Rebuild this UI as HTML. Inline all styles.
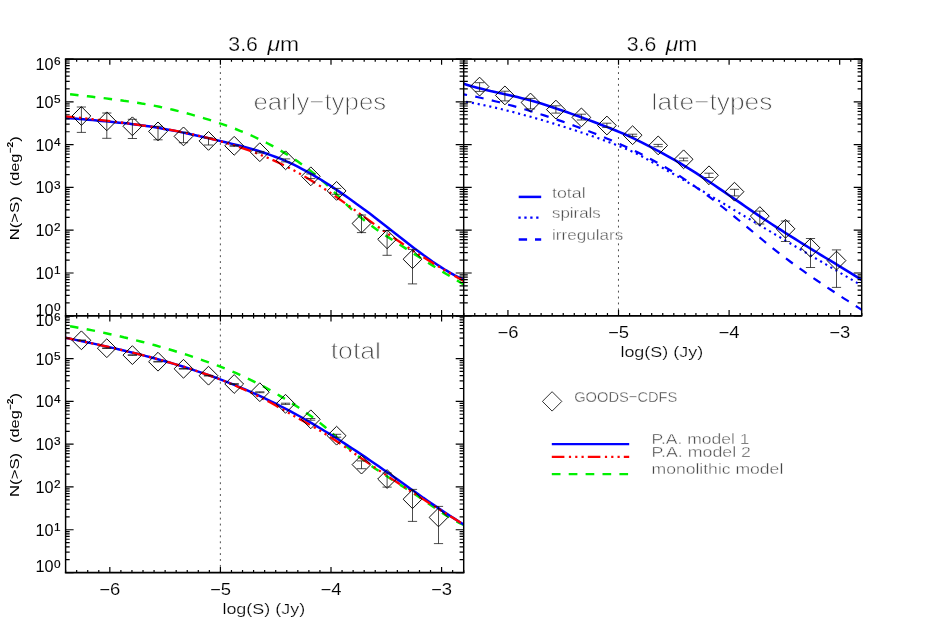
<!DOCTYPE html>
<html><head><meta charset="utf-8"><title>3.6 um counts</title>
<style>html,body{margin:0;padding:0;background:#fff;}svg{display:block;}</style></head>
<body>
<svg width="926" height="632" viewBox="0 0 926 632" font-family="'Liberation Sans', sans-serif">
<rect width="926" height="632" fill="#fff"/>
<path d="M220.37,59.06 V315.80" stroke="#303030" stroke-width="0.85" stroke-dasharray="1.9 4.007" stroke-dashoffset="4.674" fill="none"/>
<path d="M618.47,59.06 V315.80" stroke="#303030" stroke-width="0.85" stroke-dasharray="1.9 4.007" stroke-dashoffset="4.674" fill="none"/>
<path d="M220.37,315.80 V572.70" stroke="#303030" stroke-width="0.85" stroke-dasharray="1.9 4.007" stroke-dashoffset="4.850" fill="none"/>
<defs><clipPath id="c1"><rect x="65.60" y="59.06" width="398.10" height="256.74"/></clipPath>
<clipPath id="c2"><rect x="463.70" y="59.06" width="398.00" height="256.74"/></clipPath>
<clipPath id="c3"><rect x="65.60" y="315.80" width="398.10" height="256.90"/></clipPath></defs>
<g clip-path="url(#c1)" fill="none" stroke-width="2.7">
<path d="M65.6,93.7 L70.1,94.2 L74.5,94.7 L79.0,95.3 L83.5,95.8 L88.0,96.3 L92.4,96.8 L96.9,97.4 L101.4,97.9 L105.9,98.4 L110.3,99.0 L114.8,99.6 L119.3,100.1 L123.7,100.8 L128.2,101.4 L132.7,102.1 L137.2,102.7 L141.6,103.5 L146.1,104.2 L150.6,105.1 L155.1,105.9 L159.5,106.8 L164.0,107.8 L168.5,108.7 L173.0,109.8 L177.4,110.9 L181.9,112.0 L186.4,113.2 L190.8,114.4 L195.3,115.7 L199.8,117.0 L204.3,118.3 L208.7,119.7 L213.2,121.1 L217.7,122.6 L222.2,124.1 L226.6,125.7 L231.1,127.3 L235.6,129.0 L240.0,130.8 L244.5,132.6 L249.0,134.5 L253.5,136.5 L257.9,138.6 L262.4,140.8 L266.9,143.0 L271.4,145.4 L275.8,147.8 L280.3,150.4 L284.8,153.1 L289.3,155.9 L293.7,158.8 L298.2,161.8 L302.7,165.0 L307.1,168.3 L311.6,171.7 L316.1,175.3 L320.6,179.1 L325.0,183.2 L329.5,187.4 L334.0,191.8 L338.5,196.4 L342.9,201.0 L347.4,205.4 L351.9,209.7 L356.3,213.7 L360.8,217.5 L365.3,221.1 L369.8,224.5 L374.2,227.8 L378.7,231.0 L383.2,234.0 L387.7,236.9 L392.1,239.8 L396.6,242.7 L401.1,245.5 L405.6,248.4 L410.0,251.2 L414.5,254.1 L419.0,256.9 L423.4,259.7 L427.9,262.6 L432.4,265.4 L436.9,268.2 L441.3,270.9 L445.8,273.7 L450.3,276.4 L454.8,279.1 L459.2,281.7 L463.7,284.4" stroke="#00f000" stroke-width="2.45" stroke-dasharray="8.5 8.4" stroke-dashoffset="-4.5"/>
<path d="M65.6,117.9 L70.1,118.2 L74.5,118.6 L79.0,119.0 L83.5,119.3 L88.0,119.7 L92.4,120.1 L96.9,120.5 L101.4,120.9 L105.9,121.3 L110.3,121.7 L114.8,122.2 L119.3,122.7 L123.7,123.1 L128.2,123.6 L132.7,124.2 L137.2,124.7 L141.6,125.3 L146.1,126.0 L150.6,126.6 L155.1,127.3 L159.5,128.1 L164.0,128.9 L168.5,129.7 L173.0,130.5 L177.4,131.4 L181.9,132.4 L186.4,133.3 L190.8,134.3 L195.3,135.3 L199.8,136.3 L204.3,137.3 L208.7,138.3 L213.2,139.4 L217.7,140.4 L222.2,141.5 L226.6,142.5 L231.1,143.6 L235.6,144.7 L240.0,145.8 L244.5,147.0 L249.0,148.2 L253.5,149.5 L257.9,150.8 L262.4,152.3 L266.9,153.7 L271.4,155.3 L275.8,157.0 L280.3,158.7 L284.8,160.6 L289.3,162.6 L293.7,164.7 L298.2,166.9 L302.7,169.3 L307.1,171.7 L311.6,174.2 L316.1,176.8 L320.6,179.5 L325.0,182.3 L329.5,185.1 L334.0,188.1 L338.5,191.1 L342.9,194.1 L347.4,197.3 L351.9,200.4 L356.3,203.7 L360.8,206.9 L365.3,210.3 L369.8,213.6 L374.2,217.0 L378.7,220.5 L383.2,223.9 L387.7,227.4 L392.1,230.9 L396.6,234.4 L401.1,237.9 L405.6,241.4 L410.0,244.9 L414.5,248.4 L419.0,251.8 L423.4,255.1 L427.9,258.3 L432.4,261.5 L436.9,264.5 L441.3,267.4 L445.8,270.2 L450.3,272.8 L454.8,275.3 L459.2,277.5 L463.7,279.6" stroke="#0000ff" stroke-width="2.5"/>
<path d="M65.6,116.3 L70.1,116.8 L74.5,117.2 L79.0,117.7 L83.5,118.2 L88.0,118.7 L92.4,119.2 L96.9,119.7 L101.4,120.2 L105.9,120.7 L110.3,121.2 L114.8,121.7 L119.3,122.3 L123.7,122.8 L128.2,123.4 L132.7,124.0 L137.2,124.6 L141.6,125.3 L146.1,125.9 L150.6,126.6 L155.1,127.3 L159.5,128.0 L164.0,128.8 L168.5,129.6 L173.0,130.4 L177.4,131.2 L181.9,132.1 L186.4,133.0 L190.8,134.0 L195.3,135.0 L199.8,136.0 L204.3,137.1 L208.7,138.2 L213.2,139.3 L217.7,140.5 L222.2,141.8 L226.6,143.1 L231.1,144.4 L235.6,145.8 L240.0,147.3 L244.5,148.8 L249.0,150.4 L253.5,152.1 L257.9,153.8 L262.4,155.6 L266.9,157.5 L271.4,159.4 L275.8,161.4 L280.3,163.5 L284.8,165.7 L289.3,168.0 L293.7,170.3 L298.2,172.8 L302.7,175.3 L307.1,178.0 L311.6,180.7 L316.1,183.5 L320.6,186.4 L325.0,189.3 L329.5,192.3 L334.0,195.4 L338.5,198.5 L342.9,201.6 L347.4,204.8 L351.9,208.0 L356.3,211.2 L360.8,214.4 L365.3,217.6 L369.8,220.9 L374.2,224.1 L378.7,227.3 L383.2,230.5 L387.7,233.6 L392.1,236.7 L396.6,239.8 L401.1,242.8 L405.6,245.8 L410.0,248.8 L414.5,251.7 L419.0,254.5 L423.4,257.3 L427.9,260.1 L432.4,262.8 L436.9,265.5 L441.3,268.2 L445.8,270.8 L450.3,273.4 L454.8,275.9 L459.2,278.5 L463.7,281.0" stroke="#ff0000" stroke-width="2.3" stroke-dasharray="12.6 4.5 2.2 4.1 2.2 4.1 2.2 4.1" stroke-dashoffset="3.65"/>
</g>
<g clip-path="url(#c2)" fill="none" stroke-width="2.7" stroke="#0000ff">
<path d="M463.7,83.8 L468.2,85.2 L472.6,86.5 L477.1,87.7 L481.6,88.8 L486.1,89.9 L490.5,91.0 L495.0,92.0 L499.5,93.0 L503.9,94.0 L508.4,95.0 L512.9,96.0 L517.4,97.1 L521.8,98.2 L526.3,99.3 L530.8,100.5 L535.3,101.7 L539.7,103.1 L544.2,104.4 L548.7,105.9 L553.1,107.4 L557.6,108.9 L562.1,110.4 L566.6,112.0 L571.0,113.6 L575.5,115.2 L580.0,116.8 L584.4,118.5 L588.9,120.1 L593.4,121.8 L597.9,123.5 L602.3,125.2 L606.8,126.9 L611.3,128.7 L615.7,130.5 L620.2,132.4 L624.7,134.3 L629.2,136.3 L633.6,138.4 L638.1,140.6 L642.6,142.8 L647.0,145.1 L651.5,147.4 L656.0,149.8 L660.5,152.2 L664.9,154.6 L669.4,157.1 L673.9,159.6 L678.4,162.2 L682.8,164.9 L687.3,167.6 L691.8,170.4 L696.2,173.2 L700.7,176.1 L705.2,179.1 L709.7,182.0 L714.1,185.0 L718.6,188.1 L723.1,191.1 L727.5,194.2 L732.0,197.3 L736.5,200.4 L741.0,203.4 L745.4,206.5 L749.9,209.6 L754.4,212.6 L758.8,215.6 L763.3,218.6 L767.8,221.5 L772.3,224.5 L776.7,227.4 L781.2,230.2 L785.7,233.1 L790.1,235.9 L794.6,238.7 L799.1,241.5 L803.6,244.3 L808.0,247.0 L812.5,249.8 L817.0,252.5 L821.5,255.3 L825.9,258.0 L830.4,260.7 L834.9,263.4 L839.3,266.2 L843.8,268.9 L848.3,271.6 L852.8,274.3 L857.2,277.1 L861.7,279.8" stroke-width="2.6"/>
<path d="M463.7,101.3 L468.2,102.1 L472.6,102.9 L477.1,103.8 L481.6,104.7 L486.1,105.6 L490.5,106.6 L495.0,107.6 L499.5,108.7 L503.9,109.8 L508.4,110.9 L512.9,112.0 L517.4,113.2 L521.8,114.4 L526.3,115.6 L530.8,116.8 L535.3,118.1 L539.7,119.4 L544.2,120.7 L548.7,122.1 L553.1,123.4 L557.6,124.8 L562.1,126.2 L566.6,127.6 L571.0,129.1 L575.5,130.5 L580.0,132.0 L584.4,133.5 L588.9,135.0 L593.4,136.5 L597.9,138.1 L602.3,139.7 L606.8,141.3 L611.3,143.0 L615.7,144.8 L620.2,146.6 L624.7,148.4 L629.2,150.3 L633.6,152.2 L638.1,154.3 L642.6,156.7 L647.0,159.2 L651.5,161.8 L656.0,164.2 L660.5,166.7 L664.9,169.2 L669.4,171.8 L673.9,174.3 L678.4,176.9 L682.8,179.5 L687.3,182.1 L691.8,184.7 L696.2,187.3 L700.7,190.0 L705.2,192.6 L709.7,195.3 L714.1,198.0 L718.6,200.6 L723.1,203.3 L727.5,206.0 L732.0,208.7 L736.5,211.4 L741.0,214.1 L745.4,216.7 L749.9,219.4 L754.4,222.1 L758.8,224.8 L763.3,227.4 L767.8,230.1 L772.3,232.7 L776.7,235.4 L781.2,238.0 L785.7,240.7 L790.1,243.3 L794.6,246.0 L799.1,248.6 L803.6,251.2 L808.0,253.9 L812.5,256.5 L817.0,259.2 L821.5,261.8 L825.9,264.4 L830.4,267.1 L834.9,269.7 L839.3,272.4 L843.8,275.0 L848.3,277.6 L852.8,280.3 L857.2,282.9 L861.7,285.6" stroke-width="2.15" stroke-dasharray="2.1 3.83" stroke-dashoffset="3.58"/>
<path d="M463.7,94.3 L468.2,95.2 L472.6,96.1 L477.1,97.0 L481.6,98.0 L486.1,99.1 L490.5,100.1 L495.0,101.2 L499.5,102.3 L503.9,103.5 L508.4,104.7 L512.9,105.9 L517.4,107.2 L521.8,108.5 L526.3,109.8 L530.8,111.2 L535.3,112.5 L539.7,114.0 L544.2,115.4 L548.7,116.9 L553.1,118.4 L557.6,119.9 L562.1,121.4 L566.6,123.0 L571.0,124.6 L575.5,126.2 L580.0,127.9 L584.4,129.6 L588.9,131.3 L593.4,133.0 L597.9,134.8 L602.3,136.6 L606.8,138.4 L611.3,140.3 L615.7,142.2 L620.2,144.2 L624.7,146.2 L629.2,148.3 L633.6,150.4 L638.1,152.6 L642.6,154.8 L647.0,157.2 L651.5,159.5 L656.0,162.0 L660.5,164.5 L664.9,167.0 L669.4,169.7 L673.9,172.4 L678.4,175.2 L682.8,178.1 L687.3,181.1 L691.8,184.2 L696.2,187.3 L700.7,190.5 L705.2,193.8 L709.7,197.1 L714.1,200.5 L718.6,204.0 L723.1,207.5 L727.5,211.0 L732.0,214.6 L736.5,218.3 L741.0,222.0 L745.4,225.7 L749.9,229.4 L754.4,233.1 L758.8,236.8 L763.3,240.5 L767.8,244.2 L772.3,247.8 L776.7,251.3 L781.2,254.8 L785.7,258.2 L790.1,261.5 L794.6,264.8 L799.1,268.1 L803.6,271.2 L808.0,274.4 L812.5,277.5 L817.0,280.5 L821.5,283.6 L825.9,286.6 L830.4,289.5 L834.9,292.5 L839.3,295.4 L843.8,298.3 L848.3,301.2 L852.8,304.0 L857.2,306.9 L861.7,309.8" stroke-width="2.2" stroke-dasharray="8.5 8.4" stroke-dashoffset="5.1"/>
</g>
<g clip-path="url(#c3)" fill="none" stroke-width="2.7">
<path d="M65.6,325.4 L70.1,326.2 L74.5,327.0 L79.0,327.8 L83.5,328.6 L88.0,329.5 L92.4,330.4 L96.9,331.3 L101.4,332.2 L105.9,333.2 L110.3,334.2 L114.8,335.2 L119.3,336.2 L123.7,337.3 L128.2,338.3 L132.7,339.4 L137.2,340.6 L141.6,341.7 L146.1,342.9 L150.6,344.1 L155.1,345.3 L159.5,346.6 L164.0,347.9 L168.5,349.2 L173.0,350.5 L177.4,351.9 L181.9,353.3 L186.4,354.7 L190.8,356.2 L195.3,357.7 L199.8,359.2 L204.3,360.8 L208.7,362.3 L213.2,364.0 L217.7,365.6 L222.2,367.4 L226.6,369.1 L231.1,371.0 L235.6,372.9 L240.0,374.9 L244.5,377.0 L249.0,379.1 L253.5,381.3 L257.9,383.6 L262.4,385.9 L266.9,388.3 L271.4,390.8 L275.8,393.4 L280.3,396.1 L284.8,398.8 L289.3,401.6 L293.7,404.4 L298.2,407.3 L302.7,410.3 L307.1,413.4 L311.6,416.6 L316.1,419.9 L320.6,423.4 L325.0,427.0 L329.5,430.9 L334.0,434.9 L338.5,439.0 L342.9,443.0 L347.4,447.0 L351.9,450.9 L356.3,454.6 L360.8,458.1 L365.3,461.5 L369.8,464.7 L374.2,467.9 L378.7,470.9 L383.2,473.9 L387.7,476.8 L392.1,479.7 L396.6,482.5 L401.1,485.4 L405.6,488.2 L410.0,491.1 L414.5,494.0 L419.0,497.0 L423.4,500.1 L427.9,503.2 L432.4,506.2 L436.9,509.3 L441.3,512.3 L445.8,515.1 L450.3,517.9 L454.8,520.5 L459.2,522.8 L463.7,525.0" stroke="#00f000" stroke-width="2.45" stroke-dasharray="8.5 8.4" stroke-dashoffset="-4.5"/>
<path d="M65.6,337.8 L70.1,338.7 L74.5,339.6 L79.0,340.6 L83.5,341.5 L88.0,342.5 L92.4,343.4 L96.9,344.4 L101.4,345.4 L105.9,346.4 L110.3,347.4 L114.8,348.4 L119.3,349.5 L123.7,350.5 L128.2,351.6 L132.7,352.7 L137.2,353.8 L141.6,354.9 L146.1,356.1 L150.6,357.3 L155.1,358.5 L159.5,359.7 L164.0,361.0 L168.5,362.3 L173.0,363.6 L177.4,364.9 L181.9,366.3 L186.4,367.7 L190.8,369.1 L195.3,370.6 L199.8,372.1 L204.3,373.6 L208.7,375.2 L213.2,376.8 L217.7,378.4 L222.2,380.1 L226.6,381.9 L231.1,383.6 L235.6,385.4 L240.0,387.3 L244.5,389.2 L249.0,391.1 L253.5,393.1 L257.9,395.1 L262.4,397.2 L266.9,399.3 L271.4,401.5 L275.8,403.7 L280.3,406.0 L284.8,408.3 L289.3,410.7 L293.7,413.1 L298.2,415.5 L302.7,418.0 L307.1,420.6 L311.6,423.2 L316.1,425.8 L320.6,428.5 L325.0,431.2 L329.5,433.9 L334.0,436.7 L338.5,439.5 L342.9,442.4 L347.4,445.2 L351.9,448.2 L356.3,451.1 L360.8,454.1 L365.3,457.1 L369.8,460.2 L374.2,463.2 L378.7,466.3 L383.2,469.5 L387.7,472.6 L392.1,475.8 L396.6,478.9 L401.1,482.1 L405.6,485.3 L410.0,488.4 L414.5,491.6 L419.0,494.7 L423.4,497.9 L427.9,501.0 L432.4,504.1 L436.9,507.1 L441.3,510.1 L445.8,513.1 L450.3,516.0 L454.8,518.9 L459.2,521.7 L463.7,524.5" stroke="#0000ff" stroke-width="2.5"/>
<path d="M65.6,337.8 L70.1,338.7 L74.5,339.6 L79.0,340.6 L83.5,341.5 L88.0,342.5 L92.4,343.5 L96.9,344.4 L101.4,345.4 L105.9,346.4 L110.3,347.4 L114.8,348.4 L119.3,349.5 L123.7,350.5 L128.2,351.6 L132.7,352.7 L137.2,353.8 L141.6,354.9 L146.1,356.1 L150.6,357.2 L155.1,358.4 L159.5,359.7 L164.0,360.9 L168.5,362.2 L173.0,363.5 L177.4,364.8 L181.9,366.2 L186.4,367.6 L190.8,369.0 L195.3,370.5 L199.8,372.0 L204.3,373.6 L208.7,375.1 L213.2,376.8 L217.7,378.5 L222.2,380.2 L226.6,382.0 L231.1,383.8 L235.6,385.7 L240.0,387.7 L244.5,389.7 L249.0,391.7 L253.5,393.9 L257.9,396.1 L262.4,398.4 L266.9,400.7 L271.4,403.1 L275.8,405.6 L280.3,408.1 L284.8,410.6 L289.3,413.2 L293.7,415.8 L298.2,418.3 L302.7,420.8 L307.1,423.3 L311.6,425.8 L316.1,428.4 L320.6,431.0 L325.0,433.8 L329.5,436.6 L334.0,439.5 L338.5,442.5 L342.9,445.5 L347.4,448.6 L351.9,451.7 L356.3,454.8 L360.8,457.9 L365.3,461.0 L369.8,464.1 L374.2,467.1 L378.7,470.2 L383.2,473.2 L387.7,476.1 L392.1,479.1 L396.6,482.0 L401.1,485.0 L405.6,487.9 L410.0,490.8 L414.5,493.6 L419.0,496.5 L423.4,499.4 L427.9,502.2 L432.4,505.0 L436.9,507.8 L441.3,510.7 L445.8,513.5 L450.3,516.3 L454.8,519.1 L459.2,521.8 L463.7,524.6" stroke="#ff0000" stroke-width="2.3" stroke-dasharray="12.6 4.5 2.2 4.1 2.2 4.1 2.2 4.1" stroke-dashoffset="3.65"/>
</g>
<path d="M81.4,107.0 V132.4 M76.8,107.0 h9.2 M76.8,132.4 h9.2 M106.8,113.0 V138.3 M102.2,113.0 h9.2 M102.2,138.3 h9.2 M132.4,119.3 V138.5 M127.8,119.3 h9.2 M127.8,138.5 h9.2 M158.0,126.3 V139.8 M153.4,126.3 h9.2 M153.4,139.8 h9.2 M183.5,132.2 V142.7 M178.9,132.2 h9.2 M178.9,142.7 h9.2 M208.5,137.9 V145.0 M203.9,137.9 h9.2 M203.9,145.0 h9.2 M234.2,145.3 V146.3 M229.6,145.3 h9.2 M229.6,146.3 h9.2 M259.8,151.4 V153.0 M255.2,151.4 h9.2 M255.2,153.0 h9.2 M285.6,158.9 V161.9 M281.0,158.9 h9.2 M281.0,161.9 h9.2 M310.8,174.0 V178.6 M306.2,174.0 h9.2 M306.2,178.6 h9.2 M336.6,188.4 V194.3 M332.0,188.4 h9.2 M332.0,194.3 h9.2 M361.5,215.0 V232.6 M356.9,215.0 h9.2 M356.9,232.6 h9.2 M387.1,230.5 V255.3 M382.5,230.5 h9.2 M382.5,255.3 h9.2 M412.5,249.4 V283.9 M407.9,249.4 h9.2 M407.9,283.9 h9.2" fill="none" stroke="#111" stroke-width="0.75"/>
<path d="M72.0,116.0 l9.4,-9.4 l9.4,9.4 l-9.4,9.4 z M97.4,121.3 l9.4,-9.4 l9.4,9.4 l-9.4,9.4 z M123.0,126.3 l9.4,-9.4 l9.4,9.4 l-9.4,9.4 z M148.6,131.4 l9.4,-9.4 l9.4,9.4 l-9.4,9.4 z M174.1,136.4 l9.4,-9.4 l9.4,9.4 l-9.4,9.4 z M199.1,140.9 l9.4,-9.4 l9.4,9.4 l-9.4,9.4 z M224.8,145.8 l9.4,-9.4 l9.4,9.4 l-9.4,9.4 z M250.4,152.2 l9.4,-9.4 l9.4,9.4 l-9.4,9.4 z M276.2,160.3 l9.4,-9.4 l9.4,9.4 l-9.4,9.4 z M301.4,176.3 l9.4,-9.4 l9.4,9.4 l-9.4,9.4 z M327.2,190.9 l9.4,-9.4 l9.4,9.4 l-9.4,9.4 z M352.1,223.5 l9.4,-9.4 l9.4,9.4 l-9.4,9.4 z M377.7,239.3 l9.4,-9.4 l9.4,9.4 l-9.4,9.4 z M403.1,259.2 l9.4,-9.4 l9.4,9.4 l-9.4,9.4 z" fill="none" stroke="#000" stroke-width="0.95"/>
<path d="M479.6,82.7 V91.4 M475.0,82.7 h9.2 M475.0,91.4 h9.2 M504.9,91.2 V100.9 M500.3,91.2 h9.2 M500.3,100.9 h9.2 M530.5,98.4 V108.9 M525.9,98.4 h9.2 M525.9,108.9 h9.2 M555.9,105.8 V113.1 M551.3,105.8 h9.2 M551.3,113.1 h9.2 M581.4,114.2 V120.0 M576.8,114.2 h9.2 M576.8,120.0 h9.2 M606.9,123.2 V127.4 M602.2,123.2 h9.2 M602.2,127.4 h9.2 M632.6,134.2 V136.4 M628.0,134.2 h9.2 M628.0,136.4 h9.2 M658.1,144.4 V146.7 M653.5,144.4 h9.2 M653.5,146.7 h9.2 M683.6,158.1 V160.8 M679.0,158.1 h9.2 M679.0,160.8 h9.2 M709.0,173.2 V177.5 M704.4,173.2 h9.2 M704.4,177.5 h9.2 M734.5,189.3 V195.9 M729.9,189.3 h9.2 M729.9,195.9 h9.2 M759.8,211.1 V224.0 M755.1,211.1 h9.2 M755.1,224.0 h9.2 M785.5,221.0 V241.5 M780.9,221.0 h9.2 M780.9,241.5 h9.2 M810.5,238.5 V267.5 M805.9,238.5 h9.2 M805.9,267.5 h9.2 M836.5,249.9 V287.4 M831.9,249.9 h9.2 M831.9,287.4 h9.2" fill="none" stroke="#111" stroke-width="0.75"/>
<path d="M470.2,86.6 l9.4,-9.4 l9.4,9.4 l-9.4,9.4 z M495.5,95.4 l9.4,-9.4 l9.4,9.4 l-9.4,9.4 z M521.1,102.5 l9.4,-9.4 l9.4,9.4 l-9.4,9.4 z M546.5,109.6 l9.4,-9.4 l9.4,9.4 l-9.4,9.4 z M572.0,117.4 l9.4,-9.4 l9.4,9.4 l-9.4,9.4 z M597.5,125.5 l9.4,-9.4 l9.4,9.4 l-9.4,9.4 z M623.2,135.2 l9.4,-9.4 l9.4,9.4 l-9.4,9.4 z M648.8,145.4 l9.4,-9.4 l9.4,9.4 l-9.4,9.4 z M674.2,159.3 l9.4,-9.4 l9.4,9.4 l-9.4,9.4 z M699.6,175.3 l9.4,-9.4 l9.4,9.4 l-9.4,9.4 z M725.1,191.7 l9.4,-9.4 l9.4,9.4 l-9.4,9.4 z M750.4,216.1 l9.4,-9.4 l9.4,9.4 l-9.4,9.4 z M776.1,228.8 l9.4,-9.4 l9.4,9.4 l-9.4,9.4 z M801.1,247.8 l9.4,-9.4 l9.4,9.4 l-9.4,9.4 z M827.1,260.6 l9.4,-9.4 l9.4,9.4 l-9.4,9.4 z" fill="none" stroke="#000" stroke-width="0.95"/>
<path d="M81.4,340.0 V340.6 M76.8,340.0 h9.2 M76.8,340.6 h9.2 M106.8,347.9 V348.5 M102.2,347.9 h9.2 M102.2,348.5 h9.2 M132.4,354.8 V355.4 M127.8,354.8 h9.2 M127.8,355.4 h9.2 M158.0,361.4 V362.0 M153.4,361.4 h9.2 M153.4,362.0 h9.2 M183.5,368.5 V369.1 M178.9,368.5 h9.2 M178.9,369.1 h9.2 M208.5,375.4 V376.0 M203.9,375.4 h9.2 M203.9,376.0 h9.2 M234.2,383.6 V384.4 M229.6,383.6 h9.2 M229.6,384.4 h9.2 M259.8,391.8 V392.7 M255.2,391.8 h9.2 M255.2,392.7 h9.2 M285.5,403.2 V404.4 M280.9,403.2 h9.2 M280.9,404.4 h9.2 M310.8,418.5 V420.2 M306.1,418.5 h9.2 M306.1,420.2 h9.2 M336.6,434.3 V437.2 M332.0,434.3 h9.2 M332.0,437.2 h9.2 M361.5,460.9 V468.7 M356.9,460.9 h9.2 M356.9,468.7 h9.2 M387.1,473.0 V487.1 M382.5,473.0 h9.2 M382.5,487.1 h9.2 M412.5,489.4 V521.4 M407.9,489.4 h9.2 M407.9,521.4 h9.2 M438.5,506.4 V543.6 M433.9,506.4 h9.2 M433.9,543.6 h9.2" fill="none" stroke="#111" stroke-width="0.75"/>
<path d="M72.0,340.3 l9.4,-9.4 l9.4,9.4 l-9.4,9.4 z M97.4,348.2 l9.4,-9.4 l9.4,9.4 l-9.4,9.4 z M123.0,355.1 l9.4,-9.4 l9.4,9.4 l-9.4,9.4 z M148.6,361.7 l9.4,-9.4 l9.4,9.4 l-9.4,9.4 z M174.1,368.8 l9.4,-9.4 l9.4,9.4 l-9.4,9.4 z M199.1,375.7 l9.4,-9.4 l9.4,9.4 l-9.4,9.4 z M224.8,384.0 l9.4,-9.4 l9.4,9.4 l-9.4,9.4 z M250.4,392.2 l9.4,-9.4 l9.4,9.4 l-9.4,9.4 z M276.1,403.8 l9.4,-9.4 l9.4,9.4 l-9.4,9.4 z M301.4,419.3 l9.4,-9.4 l9.4,9.4 l-9.4,9.4 z M327.2,435.7 l9.4,-9.4 l9.4,9.4 l-9.4,9.4 z M352.1,464.6 l9.4,-9.4 l9.4,9.4 l-9.4,9.4 z M377.7,479.0 l9.4,-9.4 l9.4,9.4 l-9.4,9.4 z M403.1,499.2 l9.4,-9.4 l9.4,9.4 l-9.4,9.4 z M429.1,517.4 l9.4,-9.4 l9.4,9.4 l-9.4,9.4 z" fill="none" stroke="#000" stroke-width="0.95"/>
<path d="M65.60,59.06 v2.80 M76.66,59.06 v2.80 M87.72,59.06 v2.80 M98.78,59.06 v2.80 M109.83,59.06 v5.70 M120.89,59.06 v2.80 M131.95,59.06 v2.80 M143.01,59.06 v2.80 M154.07,59.06 v2.80 M165.13,59.06 v2.80 M176.18,59.06 v2.80 M187.24,59.06 v2.80 M198.30,59.06 v2.80 M209.36,59.06 v2.80 M220.42,59.06 v5.70 M231.47,59.06 v2.80 M242.53,59.06 v2.80 M253.59,59.06 v2.80 M264.65,59.06 v2.80 M275.71,59.06 v2.80 M286.77,59.06 v2.80 M297.83,59.06 v2.80 M308.88,59.06 v2.80 M319.94,59.06 v2.80 M331.00,59.06 v5.70 M342.06,59.06 v2.80 M353.12,59.06 v2.80 M364.18,59.06 v2.80 M375.23,59.06 v2.80 M386.29,59.06 v2.80 M397.35,59.06 v2.80 M408.41,59.06 v2.80 M419.47,59.06 v2.80 M430.53,59.06 v2.80 M441.58,59.06 v5.70 M452.64,59.06 v2.80 M463.70,59.06 v2.80" stroke="#000" stroke-width="1.2" fill="none"/>
<path d="M463.70,59.06 v2.80 M474.76,59.06 v2.80 M485.82,59.06 v2.80 M496.88,59.06 v2.80 M507.93,59.06 v5.70 M518.99,59.06 v2.80 M530.05,59.06 v2.80 M541.11,59.06 v2.80 M552.17,59.06 v2.80 M563.23,59.06 v2.80 M574.28,59.06 v2.80 M585.34,59.06 v2.80 M596.40,59.06 v2.80 M607.46,59.06 v2.80 M618.52,59.06 v5.70 M629.58,59.06 v2.80 M640.63,59.06 v2.80 M651.69,59.06 v2.80 M662.75,59.06 v2.80 M673.81,59.06 v2.80 M684.87,59.06 v2.80 M695.93,59.06 v2.80 M706.98,59.06 v2.80 M718.04,59.06 v2.80 M729.10,59.06 v5.70 M740.16,59.06 v2.80 M751.22,59.06 v2.80 M762.28,59.06 v2.80 M773.33,59.06 v2.80 M784.39,59.06 v2.80 M795.45,59.06 v2.80 M806.51,59.06 v2.80 M817.57,59.06 v2.80 M828.62,59.06 v2.80 M839.68,59.06 v5.70 M850.74,59.06 v2.80 M861.80,59.06 v2.80" stroke="#000" stroke-width="1.2" fill="none"/>
<path d="M65.60,315.80 v2.80 M65.60,315.80 v-2.80 M76.66,315.80 v2.80 M76.66,315.80 v-2.80 M87.72,315.80 v2.80 M87.72,315.80 v-2.80 M98.78,315.80 v2.80 M98.78,315.80 v-2.80 M109.83,315.80 v5.70 M109.83,315.80 v-5.70 M120.89,315.80 v2.80 M120.89,315.80 v-2.80 M131.95,315.80 v2.80 M131.95,315.80 v-2.80 M143.01,315.80 v2.80 M143.01,315.80 v-2.80 M154.07,315.80 v2.80 M154.07,315.80 v-2.80 M165.13,315.80 v2.80 M165.13,315.80 v-2.80 M176.18,315.80 v2.80 M176.18,315.80 v-2.80 M187.24,315.80 v2.80 M187.24,315.80 v-2.80 M198.30,315.80 v2.80 M198.30,315.80 v-2.80 M209.36,315.80 v2.80 M209.36,315.80 v-2.80 M220.42,315.80 v5.70 M220.42,315.80 v-5.70 M231.47,315.80 v2.80 M231.47,315.80 v-2.80 M242.53,315.80 v2.80 M242.53,315.80 v-2.80 M253.59,315.80 v2.80 M253.59,315.80 v-2.80 M264.65,315.80 v2.80 M264.65,315.80 v-2.80 M275.71,315.80 v2.80 M275.71,315.80 v-2.80 M286.77,315.80 v2.80 M286.77,315.80 v-2.80 M297.83,315.80 v2.80 M297.83,315.80 v-2.80 M308.88,315.80 v2.80 M308.88,315.80 v-2.80 M319.94,315.80 v2.80 M319.94,315.80 v-2.80 M331.00,315.80 v5.70 M331.00,315.80 v-5.70 M342.06,315.80 v2.80 M342.06,315.80 v-2.80 M353.12,315.80 v2.80 M353.12,315.80 v-2.80 M364.18,315.80 v2.80 M364.18,315.80 v-2.80 M375.23,315.80 v2.80 M375.23,315.80 v-2.80 M386.29,315.80 v2.80 M386.29,315.80 v-2.80 M397.35,315.80 v2.80 M397.35,315.80 v-2.80 M408.41,315.80 v2.80 M408.41,315.80 v-2.80 M419.47,315.80 v2.80 M419.47,315.80 v-2.80 M430.53,315.80 v2.80 M430.53,315.80 v-2.80 M441.58,315.80 v5.70 M441.58,315.80 v-5.70 M452.64,315.80 v2.80 M452.64,315.80 v-2.80 M463.70,315.80 v2.80 M463.70,315.80 v-2.80" stroke="#000" stroke-width="1.2" fill="none"/>
<path d="M463.70,315.80 v-2.80 M474.76,315.80 v-2.80 M485.82,315.80 v-2.80 M496.88,315.80 v-2.80 M507.93,315.80 v-5.70 M518.99,315.80 v-2.80 M530.05,315.80 v-2.80 M541.11,315.80 v-2.80 M552.17,315.80 v-2.80 M563.23,315.80 v-2.80 M574.28,315.80 v-2.80 M585.34,315.80 v-2.80 M596.40,315.80 v-2.80 M607.46,315.80 v-2.80 M618.52,315.80 v-5.70 M629.58,315.80 v-2.80 M640.63,315.80 v-2.80 M651.69,315.80 v-2.80 M662.75,315.80 v-2.80 M673.81,315.80 v-2.80 M684.87,315.80 v-2.80 M695.93,315.80 v-2.80 M706.98,315.80 v-2.80 M718.04,315.80 v-2.80 M729.10,315.80 v-5.70 M740.16,315.80 v-2.80 M751.22,315.80 v-2.80 M762.28,315.80 v-2.80 M773.33,315.80 v-2.80 M784.39,315.80 v-2.80 M795.45,315.80 v-2.80 M806.51,315.80 v-2.80 M817.57,315.80 v-2.80 M828.62,315.80 v-2.80 M839.68,315.80 v-5.70 M850.74,315.80 v-2.80 M861.80,315.80 v-2.80" stroke="#000" stroke-width="1.2" fill="none"/>
<path d="M65.60,572.70 v-2.80 M76.66,572.70 v-2.80 M87.72,572.70 v-2.80 M98.78,572.70 v-2.80 M109.83,572.70 v-5.70 M120.89,572.70 v-2.80 M131.95,572.70 v-2.80 M143.01,572.70 v-2.80 M154.07,572.70 v-2.80 M165.13,572.70 v-2.80 M176.18,572.70 v-2.80 M187.24,572.70 v-2.80 M198.30,572.70 v-2.80 M209.36,572.70 v-2.80 M220.42,572.70 v-5.70 M231.47,572.70 v-2.80 M242.53,572.70 v-2.80 M253.59,572.70 v-2.80 M264.65,572.70 v-2.80 M275.71,572.70 v-2.80 M286.77,572.70 v-2.80 M297.83,572.70 v-2.80 M308.88,572.70 v-2.80 M319.94,572.70 v-2.80 M331.00,572.70 v-5.70 M342.06,572.70 v-2.80 M353.12,572.70 v-2.80 M364.18,572.70 v-2.80 M375.23,572.70 v-2.80 M386.29,572.70 v-2.80 M397.35,572.70 v-2.80 M408.41,572.70 v-2.80 M419.47,572.70 v-2.80 M430.53,572.70 v-2.80 M441.58,572.70 v-5.70 M452.64,572.70 v-2.80 M463.70,572.70 v-2.80" stroke="#000" stroke-width="1.2" fill="none"/>
<path d="M65.60,315.80 h8.00 M65.60,302.92 h4.10 M65.60,295.38 h4.10 M65.60,290.04 h4.10 M65.60,285.89 h4.10 M65.60,282.50 h4.10 M65.60,279.64 h4.10 M65.60,277.16 h4.10 M65.60,274.97 h4.10 M65.60,273.01 h8.00 M65.60,260.13 h4.10 M65.60,252.59 h4.10 M65.60,247.25 h4.10 M65.60,243.10 h4.10 M65.60,239.71 h4.10 M65.60,236.85 h4.10 M65.60,234.37 h4.10 M65.60,232.18 h4.10 M65.60,230.22 h8.00 M65.60,217.34 h4.10 M65.60,209.80 h4.10 M65.60,204.46 h4.10 M65.60,200.31 h4.10 M65.60,196.92 h4.10 M65.60,194.06 h4.10 M65.60,191.58 h4.10 M65.60,189.39 h4.10 M65.60,187.43 h8.00 M65.60,174.55 h4.10 M65.60,167.01 h4.10 M65.60,161.67 h4.10 M65.60,157.52 h4.10 M65.60,154.13 h4.10 M65.60,151.27 h4.10 M65.60,148.79 h4.10 M65.60,146.60 h4.10 M65.60,144.64 h8.00 M65.60,131.76 h4.10 M65.60,124.22 h4.10 M65.60,118.88 h4.10 M65.60,114.73 h4.10 M65.60,111.34 h4.10 M65.60,108.48 h4.10 M65.60,106.00 h4.10 M65.60,103.81 h4.10 M65.60,101.85 h8.00 M65.60,88.97 h4.10 M65.60,81.43 h4.10 M65.60,76.09 h4.10 M65.60,71.94 h4.10 M65.60,68.55 h4.10 M65.60,65.69 h4.10 M65.60,63.21 h4.10 M65.60,61.02 h4.10 M65.60,59.06 h8.00" stroke="#000" stroke-width="1.2" fill="none"/>
<path d="M463.70,315.80 h8.00 M463.70,315.80 h-8.00 M463.70,302.92 h4.10 M463.70,302.92 h-4.10 M463.70,295.38 h4.10 M463.70,295.38 h-4.10 M463.70,290.04 h4.10 M463.70,290.04 h-4.10 M463.70,285.89 h4.10 M463.70,285.89 h-4.10 M463.70,282.50 h4.10 M463.70,282.50 h-4.10 M463.70,279.64 h4.10 M463.70,279.64 h-4.10 M463.70,277.16 h4.10 M463.70,277.16 h-4.10 M463.70,274.97 h4.10 M463.70,274.97 h-4.10 M463.70,273.01 h8.00 M463.70,273.01 h-8.00 M463.70,260.13 h4.10 M463.70,260.13 h-4.10 M463.70,252.59 h4.10 M463.70,252.59 h-4.10 M463.70,247.25 h4.10 M463.70,247.25 h-4.10 M463.70,243.10 h4.10 M463.70,243.10 h-4.10 M463.70,239.71 h4.10 M463.70,239.71 h-4.10 M463.70,236.85 h4.10 M463.70,236.85 h-4.10 M463.70,234.37 h4.10 M463.70,234.37 h-4.10 M463.70,232.18 h4.10 M463.70,232.18 h-4.10 M463.70,230.22 h8.00 M463.70,230.22 h-8.00 M463.70,217.34 h4.10 M463.70,217.34 h-4.10 M463.70,209.80 h4.10 M463.70,209.80 h-4.10 M463.70,204.46 h4.10 M463.70,204.46 h-4.10 M463.70,200.31 h4.10 M463.70,200.31 h-4.10 M463.70,196.92 h4.10 M463.70,196.92 h-4.10 M463.70,194.06 h4.10 M463.70,194.06 h-4.10 M463.70,191.58 h4.10 M463.70,191.58 h-4.10 M463.70,189.39 h4.10 M463.70,189.39 h-4.10 M463.70,187.43 h8.00 M463.70,187.43 h-8.00 M463.70,174.55 h4.10 M463.70,174.55 h-4.10 M463.70,167.01 h4.10 M463.70,167.01 h-4.10 M463.70,161.67 h4.10 M463.70,161.67 h-4.10 M463.70,157.52 h4.10 M463.70,157.52 h-4.10 M463.70,154.13 h4.10 M463.70,154.13 h-4.10 M463.70,151.27 h4.10 M463.70,151.27 h-4.10 M463.70,148.79 h4.10 M463.70,148.79 h-4.10 M463.70,146.60 h4.10 M463.70,146.60 h-4.10 M463.70,144.64 h8.00 M463.70,144.64 h-8.00 M463.70,131.76 h4.10 M463.70,131.76 h-4.10 M463.70,124.22 h4.10 M463.70,124.22 h-4.10 M463.70,118.88 h4.10 M463.70,118.88 h-4.10 M463.70,114.73 h4.10 M463.70,114.73 h-4.10 M463.70,111.34 h4.10 M463.70,111.34 h-4.10 M463.70,108.48 h4.10 M463.70,108.48 h-4.10 M463.70,106.00 h4.10 M463.70,106.00 h-4.10 M463.70,103.81 h4.10 M463.70,103.81 h-4.10 M463.70,101.85 h8.00 M463.70,101.85 h-8.00 M463.70,88.97 h4.10 M463.70,88.97 h-4.10 M463.70,81.43 h4.10 M463.70,81.43 h-4.10 M463.70,76.09 h4.10 M463.70,76.09 h-4.10 M463.70,71.94 h4.10 M463.70,71.94 h-4.10 M463.70,68.55 h4.10 M463.70,68.55 h-4.10 M463.70,65.69 h4.10 M463.70,65.69 h-4.10 M463.70,63.21 h4.10 M463.70,63.21 h-4.10 M463.70,61.02 h4.10 M463.70,61.02 h-4.10 M463.70,59.06 h8.00 M463.70,59.06 h-8.00" stroke="#000" stroke-width="1.2" fill="none"/>
<path d="M861.70,315.80 h-8.00 M861.70,302.92 h-4.10 M861.70,295.38 h-4.10 M861.70,290.04 h-4.10 M861.70,285.89 h-4.10 M861.70,282.50 h-4.10 M861.70,279.64 h-4.10 M861.70,277.16 h-4.10 M861.70,274.97 h-4.10 M861.70,273.01 h-8.00 M861.70,260.13 h-4.10 M861.70,252.59 h-4.10 M861.70,247.25 h-4.10 M861.70,243.10 h-4.10 M861.70,239.71 h-4.10 M861.70,236.85 h-4.10 M861.70,234.37 h-4.10 M861.70,232.18 h-4.10 M861.70,230.22 h-8.00 M861.70,217.34 h-4.10 M861.70,209.80 h-4.10 M861.70,204.46 h-4.10 M861.70,200.31 h-4.10 M861.70,196.92 h-4.10 M861.70,194.06 h-4.10 M861.70,191.58 h-4.10 M861.70,189.39 h-4.10 M861.70,187.43 h-8.00 M861.70,174.55 h-4.10 M861.70,167.01 h-4.10 M861.70,161.67 h-4.10 M861.70,157.52 h-4.10 M861.70,154.13 h-4.10 M861.70,151.27 h-4.10 M861.70,148.79 h-4.10 M861.70,146.60 h-4.10 M861.70,144.64 h-8.00 M861.70,131.76 h-4.10 M861.70,124.22 h-4.10 M861.70,118.88 h-4.10 M861.70,114.73 h-4.10 M861.70,111.34 h-4.10 M861.70,108.48 h-4.10 M861.70,106.00 h-4.10 M861.70,103.81 h-4.10 M861.70,101.85 h-8.00 M861.70,88.97 h-4.10 M861.70,81.43 h-4.10 M861.70,76.09 h-4.10 M861.70,71.94 h-4.10 M861.70,68.55 h-4.10 M861.70,65.69 h-4.10 M861.70,63.21 h-4.10 M861.70,61.02 h-4.10 M861.70,59.06 h-8.00" stroke="#000" stroke-width="1.2" fill="none"/>
<path d="M65.60,572.54 h8.00 M65.60,559.66 h4.10 M65.60,552.12 h4.10 M65.60,546.78 h4.10 M65.60,542.63 h4.10 M65.60,539.24 h4.10 M65.60,536.38 h4.10 M65.60,533.90 h4.10 M65.60,531.71 h4.10 M65.60,529.75 h8.00 M65.60,516.87 h4.10 M65.60,509.33 h4.10 M65.60,503.99 h4.10 M65.60,499.84 h4.10 M65.60,496.45 h4.10 M65.60,493.59 h4.10 M65.60,491.11 h4.10 M65.60,488.92 h4.10 M65.60,486.96 h8.00 M65.60,474.08 h4.10 M65.60,466.54 h4.10 M65.60,461.20 h4.10 M65.60,457.05 h4.10 M65.60,453.66 h4.10 M65.60,450.80 h4.10 M65.60,448.32 h4.10 M65.60,446.13 h4.10 M65.60,444.17 h8.00 M65.60,431.29 h4.10 M65.60,423.75 h4.10 M65.60,418.41 h4.10 M65.60,414.26 h4.10 M65.60,410.87 h4.10 M65.60,408.01 h4.10 M65.60,405.53 h4.10 M65.60,403.34 h4.10 M65.60,401.38 h8.00 M65.60,388.50 h4.10 M65.60,380.96 h4.10 M65.60,375.62 h4.10 M65.60,371.47 h4.10 M65.60,368.08 h4.10 M65.60,365.22 h4.10 M65.60,362.74 h4.10 M65.60,360.55 h4.10 M65.60,358.59 h8.00 M65.60,345.71 h4.10 M65.60,338.17 h4.10 M65.60,332.83 h4.10 M65.60,328.68 h4.10 M65.60,325.29 h4.10 M65.60,322.43 h4.10 M65.60,319.95 h4.10 M65.60,317.76 h4.10 M65.60,315.80 h8.00" stroke="#000" stroke-width="1.2" fill="none"/>
<path d="M463.70,572.54 h-8.00 M463.70,559.66 h-4.10 M463.70,552.12 h-4.10 M463.70,546.78 h-4.10 M463.70,542.63 h-4.10 M463.70,539.24 h-4.10 M463.70,536.38 h-4.10 M463.70,533.90 h-4.10 M463.70,531.71 h-4.10 M463.70,529.75 h-8.00 M463.70,516.87 h-4.10 M463.70,509.33 h-4.10 M463.70,503.99 h-4.10 M463.70,499.84 h-4.10 M463.70,496.45 h-4.10 M463.70,493.59 h-4.10 M463.70,491.11 h-4.10 M463.70,488.92 h-4.10 M463.70,486.96 h-8.00 M463.70,474.08 h-4.10 M463.70,466.54 h-4.10 M463.70,461.20 h-4.10 M463.70,457.05 h-4.10 M463.70,453.66 h-4.10 M463.70,450.80 h-4.10 M463.70,448.32 h-4.10 M463.70,446.13 h-4.10 M463.70,444.17 h-8.00 M463.70,431.29 h-4.10 M463.70,423.75 h-4.10 M463.70,418.41 h-4.10 M463.70,414.26 h-4.10 M463.70,410.87 h-4.10 M463.70,408.01 h-4.10 M463.70,405.53 h-4.10 M463.70,403.34 h-4.10 M463.70,401.38 h-8.00 M463.70,388.50 h-4.10 M463.70,380.96 h-4.10 M463.70,375.62 h-4.10 M463.70,371.47 h-4.10 M463.70,368.08 h-4.10 M463.70,365.22 h-4.10 M463.70,362.74 h-4.10 M463.70,360.55 h-4.10 M463.70,358.59 h-8.00 M463.70,345.71 h-4.10 M463.70,338.17 h-4.10 M463.70,332.83 h-4.10 M463.70,328.68 h-4.10 M463.70,325.29 h-4.10 M463.70,322.43 h-4.10 M463.70,319.95 h-4.10 M463.70,317.76 h-4.10 M463.70,315.80 h-8.00" stroke="#000" stroke-width="1.2" fill="none"/>
<path d="M64.85,59.06 H862.30 M64.85,315.80 H862.30 M64.85,572.70 H464.40" stroke="#000" stroke-width="1.75" fill="none"/>
<path d="M65.60,59.06 V572.70 M463.70,59.06 V572.70 M861.70,59.06 V315.80" stroke="#000" stroke-width="1.45" fill="none"/>
<g opacity="0.999">
<text y="50.6" font-size="20" fill="#000" stroke="#fff" stroke-width="0.25"><tspan x="228.3" textLength="29.6" lengthAdjust="spacingAndGlyphs">3.6</tspan><tspan x="267.4" textLength="31.6" lengthAdjust="spacingAndGlyphs"><tspan font-style="italic">μ</tspan>m</tspan></text>
<text y="50.6" font-size="20" fill="#000" stroke="#fff" stroke-width="0.25"><tspan x="626.7" textLength="29.6" lengthAdjust="spacingAndGlyphs">3.6</tspan><tspan x="665.8" textLength="31.6" lengthAdjust="spacingAndGlyphs"><tspan font-style="italic">μ</tspan>m</tspan></text>
<text x="35.4" y="315.7" font-size="16.0" fill="#000" text-anchor="start" textLength="18.0" lengthAdjust="spacingAndGlyphs" >10</text>
<text x="53.9" y="310.8" font-size="11.3" fill="#000" text-anchor="start" textLength="6.6" lengthAdjust="spacingAndGlyphs" stroke="#000" stroke-width="0.2">0</text>
<text x="35.4" y="279.0" font-size="16.0" fill="#000" text-anchor="start" textLength="18.0" lengthAdjust="spacingAndGlyphs" >10</text>
<text x="53.9" y="274.1" font-size="11.3" fill="#000" text-anchor="start" textLength="6.6" lengthAdjust="spacingAndGlyphs" stroke="#000" stroke-width="0.2">1</text>
<text x="35.4" y="236.2" font-size="16.0" fill="#000" text-anchor="start" textLength="18.0" lengthAdjust="spacingAndGlyphs" >10</text>
<text x="53.9" y="231.3" font-size="11.3" fill="#000" text-anchor="start" textLength="6.6" lengthAdjust="spacingAndGlyphs" stroke="#000" stroke-width="0.2">2</text>
<text x="35.4" y="193.4" font-size="16.0" fill="#000" text-anchor="start" textLength="18.0" lengthAdjust="spacingAndGlyphs" >10</text>
<text x="53.9" y="188.5" font-size="11.3" fill="#000" text-anchor="start" textLength="6.6" lengthAdjust="spacingAndGlyphs" stroke="#000" stroke-width="0.2">3</text>
<text x="35.4" y="150.6" font-size="16.0" fill="#000" text-anchor="start" textLength="18.0" lengthAdjust="spacingAndGlyphs" >10</text>
<text x="53.9" y="145.7" font-size="11.3" fill="#000" text-anchor="start" textLength="6.6" lengthAdjust="spacingAndGlyphs" stroke="#000" stroke-width="0.2">4</text>
<text x="35.4" y="107.8" font-size="16.0" fill="#000" text-anchor="start" textLength="18.0" lengthAdjust="spacingAndGlyphs" >10</text>
<text x="53.9" y="102.9" font-size="11.3" fill="#000" text-anchor="start" textLength="6.6" lengthAdjust="spacingAndGlyphs" stroke="#000" stroke-width="0.2">5</text>
<text x="35.4" y="69.6" font-size="16.0" fill="#000" text-anchor="start" textLength="18.0" lengthAdjust="spacingAndGlyphs" >10</text>
<text x="53.9" y="64.7" font-size="11.3" fill="#000" text-anchor="start" textLength="6.6" lengthAdjust="spacingAndGlyphs" stroke="#000" stroke-width="0.2">6</text>
<text x="35.4" y="572.4" font-size="16.0" fill="#000" text-anchor="start" textLength="18.0" lengthAdjust="spacingAndGlyphs" >10</text>
<text x="53.9" y="567.5" font-size="11.3" fill="#000" text-anchor="start" textLength="6.6" lengthAdjust="spacingAndGlyphs" stroke="#000" stroke-width="0.2">0</text>
<text x="35.4" y="535.8" font-size="16.0" fill="#000" text-anchor="start" textLength="18.0" lengthAdjust="spacingAndGlyphs" >10</text>
<text x="53.9" y="530.9" font-size="11.3" fill="#000" text-anchor="start" textLength="6.6" lengthAdjust="spacingAndGlyphs" stroke="#000" stroke-width="0.2">1</text>
<text x="35.4" y="493.0" font-size="16.0" fill="#000" text-anchor="start" textLength="18.0" lengthAdjust="spacingAndGlyphs" >10</text>
<text x="53.9" y="488.1" font-size="11.3" fill="#000" text-anchor="start" textLength="6.6" lengthAdjust="spacingAndGlyphs" stroke="#000" stroke-width="0.2">2</text>
<text x="35.4" y="450.2" font-size="16.0" fill="#000" text-anchor="start" textLength="18.0" lengthAdjust="spacingAndGlyphs" >10</text>
<text x="53.9" y="445.3" font-size="11.3" fill="#000" text-anchor="start" textLength="6.6" lengthAdjust="spacingAndGlyphs" stroke="#000" stroke-width="0.2">3</text>
<text x="35.4" y="407.4" font-size="16.0" fill="#000" text-anchor="start" textLength="18.0" lengthAdjust="spacingAndGlyphs" >10</text>
<text x="53.9" y="402.5" font-size="11.3" fill="#000" text-anchor="start" textLength="6.6" lengthAdjust="spacingAndGlyphs" stroke="#000" stroke-width="0.2">4</text>
<text x="35.4" y="364.6" font-size="16.0" fill="#000" text-anchor="start" textLength="18.0" lengthAdjust="spacingAndGlyphs" >10</text>
<text x="53.9" y="359.7" font-size="11.3" fill="#000" text-anchor="start" textLength="6.6" lengthAdjust="spacingAndGlyphs" stroke="#000" stroke-width="0.2">5</text>
<text x="35.4" y="326.3" font-size="16.0" fill="#000" text-anchor="start" textLength="18.0" lengthAdjust="spacingAndGlyphs" >10</text>
<text x="53.9" y="321.4" font-size="11.3" fill="#000" text-anchor="start" textLength="6.6" lengthAdjust="spacingAndGlyphs" stroke="#000" stroke-width="0.2">6</text>
<text x="497.4" y="338.4" font-size="16.0" fill="#000" text-anchor="start" textLength="21.0" lengthAdjust="spacingAndGlyphs" stroke="#fff" stroke-width="0.12" >−6</text>
<text x="608.0" y="338.4" font-size="16.0" fill="#000" text-anchor="start" textLength="21.0" lengthAdjust="spacingAndGlyphs" stroke="#fff" stroke-width="0.12" >−5</text>
<text x="718.6" y="338.4" font-size="16.0" fill="#000" text-anchor="start" textLength="21.0" lengthAdjust="spacingAndGlyphs" stroke="#fff" stroke-width="0.12" >−4</text>
<text x="829.2" y="338.4" font-size="16.0" fill="#000" text-anchor="start" textLength="21.0" lengthAdjust="spacingAndGlyphs" stroke="#fff" stroke-width="0.12" >−3</text>
<text x="99.3" y="595.3" font-size="16.0" fill="#000" text-anchor="start" textLength="21.0" lengthAdjust="spacingAndGlyphs" stroke="#fff" stroke-width="0.12" >−6</text>
<text x="209.9" y="595.3" font-size="16.0" fill="#000" text-anchor="start" textLength="21.0" lengthAdjust="spacingAndGlyphs" stroke="#fff" stroke-width="0.12" >−5</text>
<text x="320.5" y="595.3" font-size="16.0" fill="#000" text-anchor="start" textLength="21.0" lengthAdjust="spacingAndGlyphs" stroke="#fff" stroke-width="0.12" >−4</text>
<text x="431.1" y="595.3" font-size="16.0" fill="#000" text-anchor="start" textLength="21.0" lengthAdjust="spacingAndGlyphs" stroke="#fff" stroke-width="0.12" >−3</text>
<text x="620.4" y="357.0" font-size="14.1" fill="#000" text-anchor="start" textLength="82.8" lengthAdjust="spacingAndGlyphs" stroke="#fff" stroke-width="0.20" >log(S) (Jy)</text>
<text x="222.4" y="614.0" font-size="14.1" fill="#000" text-anchor="start" textLength="82.8" lengthAdjust="spacingAndGlyphs" stroke="#fff" stroke-width="0.20" >log(S) (Jy)</text>
<g transform="translate(18.9,240.3) rotate(-90)" font-size="13.7" fill="#000"><text x="0" y="0" textLength="44.1" lengthAdjust="spacingAndGlyphs">N(&gt;S)</text><text x="54.0" y="0" textLength="49.9" lengthAdjust="spacingAndGlyphs">(deg<tspan font-size="8.6" dy="-5.6" font-weight="bold">−2</tspan><tspan dy="5.6">)</tspan></text></g>
<g transform="translate(18.9,497.0) rotate(-90)" font-size="13.7" fill="#000"><text x="0" y="0" textLength="44.1" lengthAdjust="spacingAndGlyphs">N(&gt;S)</text><text x="54.0" y="0" textLength="49.9" lengthAdjust="spacingAndGlyphs">(deg<tspan font-size="8.6" dy="-5.6" font-weight="bold">−2</tspan><tspan dy="5.6">)</tspan></text></g>
<text x="253.4" y="109.6" font-size="24.5" fill="#454545" text-anchor="start" textLength="132.8" lengthAdjust="spacingAndGlyphs" stroke="#fff" stroke-width="0.85" >early−types</text>
<text x="651.6" y="109.6" font-size="24.5" fill="#454545" text-anchor="start" textLength="120.8" lengthAdjust="spacingAndGlyphs" stroke="#fff" stroke-width="0.85" >late−types</text>
<text x="330.7" y="359.3" font-size="24.5" fill="#454545" text-anchor="start" textLength="50.3" lengthAdjust="spacingAndGlyphs" stroke="#fff" stroke-width="0.85" >total</text>
<text x="552.0" y="197.5" font-size="15.0" fill="#454545" text-anchor="start" textLength="33.6" lengthAdjust="spacingAndGlyphs" stroke="#fff" stroke-width="0.40" >total</text>
<text x="552.0" y="217.8" font-size="15.0" fill="#454545" text-anchor="start" textLength="48.8" lengthAdjust="spacingAndGlyphs" stroke="#fff" stroke-width="0.40" >spirals</text>
<text x="552.0" y="239.9" font-size="15.0" fill="#454545" text-anchor="start" textLength="71.2" lengthAdjust="spacingAndGlyphs" stroke="#fff" stroke-width="0.40" >irregulars</text>
<g stroke="#0000ff" stroke-width="2.5" fill="none"><path d="M518.7,196.9 H541.2"/><path d="M518.4,217.6 H541.2" stroke-width="2.3" stroke-dasharray="2.3 3.63"/><path d="M518.7,239.5 H541.2" stroke-dasharray="8.4 7.9"/></g>
<path d="M542.4,401.4 l9.7,-9.7 l9.7,9.7 l-9.7,9.7 z" fill="none" stroke="#111" stroke-width="0.85"/>
<text x="574.2" y="401.9" font-size="15.3" fill="#454545" text-anchor="start" textLength="103.2" lengthAdjust="spacingAndGlyphs" stroke="#fff" stroke-width="0.40" >GOODS−CDFS</text>
<g stroke-width="2.2" fill="none"><path d="M551.8,444.1 H629.2" stroke="#0000ff"/><path d="M551.8,456.95 H629.2" stroke="#ff0000" stroke-dasharray="12.6 4.5 2.2 4.1 2.2 4.1 2.2 4.1"/><path d="M551.8,474.2 H629.2" stroke="#00f000" stroke-dasharray="8.7 8.2"/></g>
<text x="651.5" y="444.1" font-size="15.2" fill="#454545" text-anchor="start" textLength="98.0" lengthAdjust="spacingAndGlyphs" stroke="#fff" stroke-width="0.40" >P.A. model 1</text>
<text x="651.5" y="457.2" font-size="15.2" fill="#454545" text-anchor="start" textLength="99.4" lengthAdjust="spacingAndGlyphs" stroke="#fff" stroke-width="0.40" >P.A. model 2</text>
<text x="651.5" y="474.1" font-size="15.2" fill="#454545" text-anchor="start" textLength="131.8" lengthAdjust="spacingAndGlyphs" stroke="#fff" stroke-width="0.40" >monolithic model</text>
</g>
</svg>
</body></html>
